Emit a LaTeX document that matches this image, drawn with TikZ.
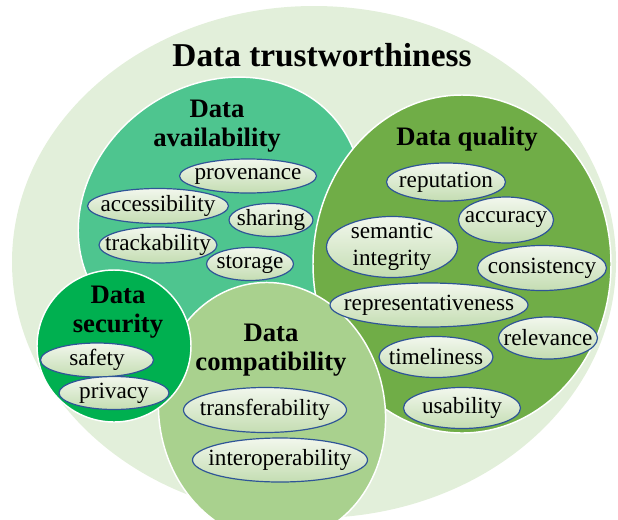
\documentclass[tikz,border=0pt]{standalone}
\usepackage{fontspec}
\setmainfont{Liberation Serif}

\definecolor{trustbg}{RGB}{226,239,218}
\definecolor{availfill}{RGB}{78,197,143}
\definecolor{qualfill}{RGB}{112,173,71}
\definecolor{secfill}{RGB}{0,176,80}
\definecolor{compfill}{RGB}{169,209,142}
\definecolor{itemtop}{RGB}{242,247,237}
\definecolor{itembottom}{RGB}{196,221,178}
\definecolor{itemline}{RGB}{47,85,151}

\begin{document}
\begin{tikzpicture}[x=0.75pt, y=-0.75pt,
  region/.style={draw=white, line width=1.1pt},
  title/.style={font=\fontsize{20}{21.5}\selectfont\bfseries, align=center, inner sep=0pt},
  attrshape/.style={draw=itemline, line width=0.9pt, top color=itemtop, bottom color=itembottom},
  attrtext/.style={inner sep=0pt, font=\fontsize{17.4}{20}\selectfont, align=center}]
  \useasboundingbox (0,0) rectangle (618,519);
  \clip (0,0) rectangle (618,519);

  % --- 1. THE BIG CIRCLE ---
  \fill[trustbg] (314,262) ellipse (302 and 256);
  \node[inner sep=0pt, font=\fontsize{25}{28}\selectfont\bfseries] (trust) at (322,55) {Data trustworthiness};

  % --- 2. THE FIVE DIMENSIONS ---
  % availability is tilted up to the right
  \filldraw[region, fill=availfill, rotate around={35:(220,212)}] (220,212) ellipse (148 and 128);
  \filldraw[region, fill=qualfill] (462,264) ellipse (149 and 169);
  % compatibility leans a little, cut by the lower edge
  \filldraw[region, fill=compfill, rotate around={10:(272,412)}] (272,412) ellipse (113 and 130);
  \filldraw[region, fill=secfill] (114,346) ellipse (77 and 76);

  \node[title] (avail) at (217,126) {Data\\availability};
  \node[title] (qual) at (467,139) {Data quality};
  \node[title] (sec) at (118,312) {Data\\security};
  \node[title] (comp) at (271,350) {Data\\compatibility};

  % --- 3. THE ATTRIBUTES ---
  % x / y / width / height / name / text
  \foreach \x/\y/\w/\h/\nm/\txt in {
      248/176/137/34/prov/provenance, 158/206/141/35/access/accessibility,
      271/220/84/33/share/sharing, 158/245/118/36/track/trackability,
      250/264/87/33/store/storage,
      446/182/119/38/reput/reputation, 506/220/95/46/accur/accuracy,
      392/247/131/61/seman/{semantic\\integrity}, 542/268/129/45/consist/consistency,
      429/305/198/44/repres/representativeness, 548/338/99/42/relev/relevance,
      436/357/114/41/timel/timeliness, 462/408/117/41/usab/usability,
      97/360/113/34/safe/safety, 114/393/110/33/priv/privacy,
      265/410/163/45/transf/transferability, 280/460/175/44/interop/interoperability} {
    \path[attrshape] (\x,\y) ellipse ({\w/2} and {\h/2});
    \node[attrtext] (\nm) at (\x,\y) {\txt};
  }
\end{tikzpicture}
\end{document}
